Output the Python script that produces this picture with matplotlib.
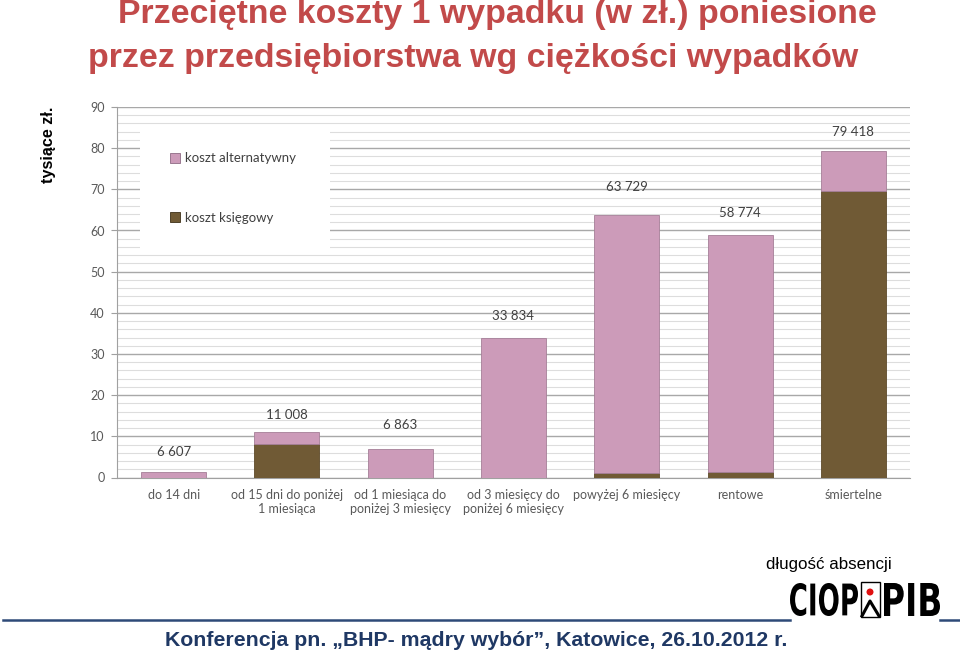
import matplotlib
matplotlib.use("Agg")
from matplotlib import pyplot as plt
from matplotlib.patches import Rectangle, Circle, PathPatch
from matplotlib.textpath import TextPath
from matplotlib.font_manager import FontProperties
from matplotlib.transforms import Affine2D
from matplotlib.lines import Line2D
import numpy as np

# data (thousand zl)
categories = ["do 14 dni", "od 15 dni do poniżej\n1 miesiąca", "od 1 miesiąca do\nponiżej 3 miesięcy",
              "od 3 miesięcy do\nponiżej 6 miesięcy", "powyżej 6 miesięcy", "rentowe", "śmiertelne"]
koszt_ksiegowy = [0.0, 8.2, 0.0, 0.0, 1.0, 1.3, 69.5]
koszt_alternatywny = [1.3, 2.8, 6.9, 33.8, 62.7, 57.5, 9.9]
total_labels = ["6 607", "11 008", "6 863", "33 834", "63 729", "58 774", "79 418"]
label_offsets = [14.5, 12.5, 17.5, 16, 20, 16, 13.5]  # points above bar top

PINK = "#CC9BB9"
BROWN = "#705A35"
TITLE_RED = "#C24A4A"
NAVY = "#1F3864"

fig = plt.figure(figsize=(9.6, 6.54), dpi=100)
W, H = 960, 654


def px(x, y):
    # pixel (from top-left) -> figure fraction
    return x / W, 1 - y / H


ax_l, ax_t, ax_w, ax_h = 117, 107, 793, 370.5
ax = fig.add_axes([ax_l / W, 1 - (ax_t + ax_h) / H, ax_w / W, ax_h / H])
x = np.arange(len(categories))
ax.bar(x, koszt_ksiegowy, width=0.575, color=BROWN, edgecolor="#5E4A2A", linewidth=0.6,
       zorder=3, label="koszt księgowy")
ax.bar(x, koszt_alternatywny, width=0.575, bottom=koszt_ksiegowy, color=PINK,
       edgecolor="#A57F98", linewidth=0.6, zorder=3, label="koszt alternatywny")

tops = np.array(koszt_ksiegowy) + np.array(koszt_alternatywny)
for i, (t, lab, off) in enumerate(zip(tops, total_labels, label_offsets)):
    ax.annotate(lab, (i, t), xytext=(0, off), textcoords="offset points", ha="center", va="center",
                fontsize=9.5, color="#404040", family="Lato")

ax.set_xlim(-0.5, len(categories) - 0.5)
ax.set_ylim(0, 90)
ax.set_yticks(np.arange(0, 91, 10))
ax.set_yticks(np.arange(0, 91, 2), minor=True)
ax.grid(axis="y", which="minor", color="#DDDDDD", linewidth=0.8, zorder=0)
ax.grid(axis="y", which="major", color="#A8A8A8", linewidth=1.0, zorder=0)
ax.set_axisbelow(True)
ax.set_xticks(x)
ax.set_xticklabels(categories, fontsize=9, color="#595959", family="Lato", linespacing=1.25)
ax.tick_params(axis="x", length=0, pad=8)
ax.tick_params(axis="y", which="major", length=4, color="#A0A0A0", labelsize=9,
               labelcolor="#595959", pad=5)
ax.tick_params(axis="y", which="minor", length=0)
for lab in ax.get_yticklabels():
    lab.set_family("Lato")
for s in ["top", "right"]:
    ax.spines[s].set_visible(False)
for s in ["left", "bottom"]:
    ax.spines[s].set_color("#A0A0A0")

# white legend area covering the grid
ax.add_patch(Rectangle(((140 - ax_l) / ax_w, 1 - (250 - ax_t) / ax_h), 190 / ax_w, 122 / ax_h,
                       transform=ax.transAxes, facecolor="white", edgecolor="none", zorder=4))
handles = [
    Line2D([], [], marker="s", linestyle="none", markersize=7, markerfacecolor=PINK,
           markeredgecolor="#8E6A84", markeredgewidth=0.6, label="koszt alternatywny"),
    Line2D([], [], marker="s", linestyle="none", markersize=7, markerfacecolor=BROWN,
           markeredgecolor="#3E3018", markeredgewidth=0.6, label="koszt księgowy"),
]
leg = ax.legend(handles=handles, loc="upper left",
                bbox_to_anchor=((170 - ax_l) / ax_w, 1 - (152.5 - ax_t) / ax_h),
                frameon=False, prop={"family": "Lato", "size": 9.5}, labelspacing=3.6,
                borderpad=0, handlelength=0.8, handletextpad=0.3, borderaxespad=0)
for t in leg.get_texts():
    t.set_color("#404040")
leg.set_zorder(5)

# titles
fig.text(*px(118, 14), "Przeciętne koszty 1 wypadku (w zł.) poniesione", ha="left", va="center",
         fontsize=24.4, fontweight="bold", color=TITLE_RED, family="Liberation Sans")
fig.text(*px(88, 58), "przez przedsiębiorstwa wg ciężkości wypadków", ha="left", va="center",
         fontsize=24.4, fontweight="bold", color=TITLE_RED, family="Liberation Sans")
fig.text(*px(48, 145), "tysiące zł.", rotation=90, ha="center", va="center", fontsize=11.6,
         fontweight="bold", color="black", family="Liberation Sans")

# footer
fig.add_artist(Line2D([3 / W, 790 / W], [1 - 620 / H] * 2, color="#2E4A78", linewidth=1.8))
fig.add_artist(Line2D([940 / W, 960 / W], [1 - 620 / H] * 2, color="#2E4A78", linewidth=1.8))
fig.text(*px(476, 640), "Konferencja pn. „BHP- mądry wybór”, Katowice, 26.10.2012 r.", ha="center",
         va="center", fontsize=15.3, fontweight="bold", color=NAVY, family="Liberation Sans")
fig.text(*px(829, 565), "długość absencji", ha="center", va="center", fontsize=12.2,
         color="black", family="Liberation Sans")

# CIOP PIB logo (condensed bold letters drawn as paths)
logo_font = FontProperties(family="Liberation Sans Narrow", weight="bold")


def logo_word(word, x0, x1, ytop, ybot):
    tp = TextPath((0, 0), word, size=100, prop=logo_font)
    ext = tp.get_extents()
    sx = (x1 - x0) / ext.width
    sy = (ybot - ytop) / ext.height
    tr = Affine2D().translate(-ext.x0, -ext.y0).scale(sx / 100, sy / 100).translate(x0 / 100, (H - ybot) / 100)
    fig.add_artist(PathPatch(tp, transform=tr + fig.dpi_scale_trans, facecolor="black",
                             edgecolor="none"))


logo_word("CIOP", 790, 858, 583, 616)
logo_word("PIB", 884, 940, 583, 616)
bx0, by0 = 861 / W, 1 - 617 / H
fig.add_artist(Rectangle((bx0, by0), 19 / W, 35 / H, fill=False, edgecolor="black", linewidth=1.0,
                         transform=fig.transFigure))
fig.add_artist(Circle((0.5, 0.5), 3.5 / 100, facecolor="#E01010", edgecolor="none",
                      transform=Affine2D().translate(-0.5, -0.5).translate(870 / 100, (H - 592) / 100)
                      + fig.dpi_scale_trans))
fig.add_artist(Line2D([862 / W, 870 / W, 879 / W], [1 - 616 / H, 1 - 601 / H, 1 - 616 / H],
                      color="black", linewidth=2.2))

fig.savefig("out.png", dpi=100, facecolor="white")
